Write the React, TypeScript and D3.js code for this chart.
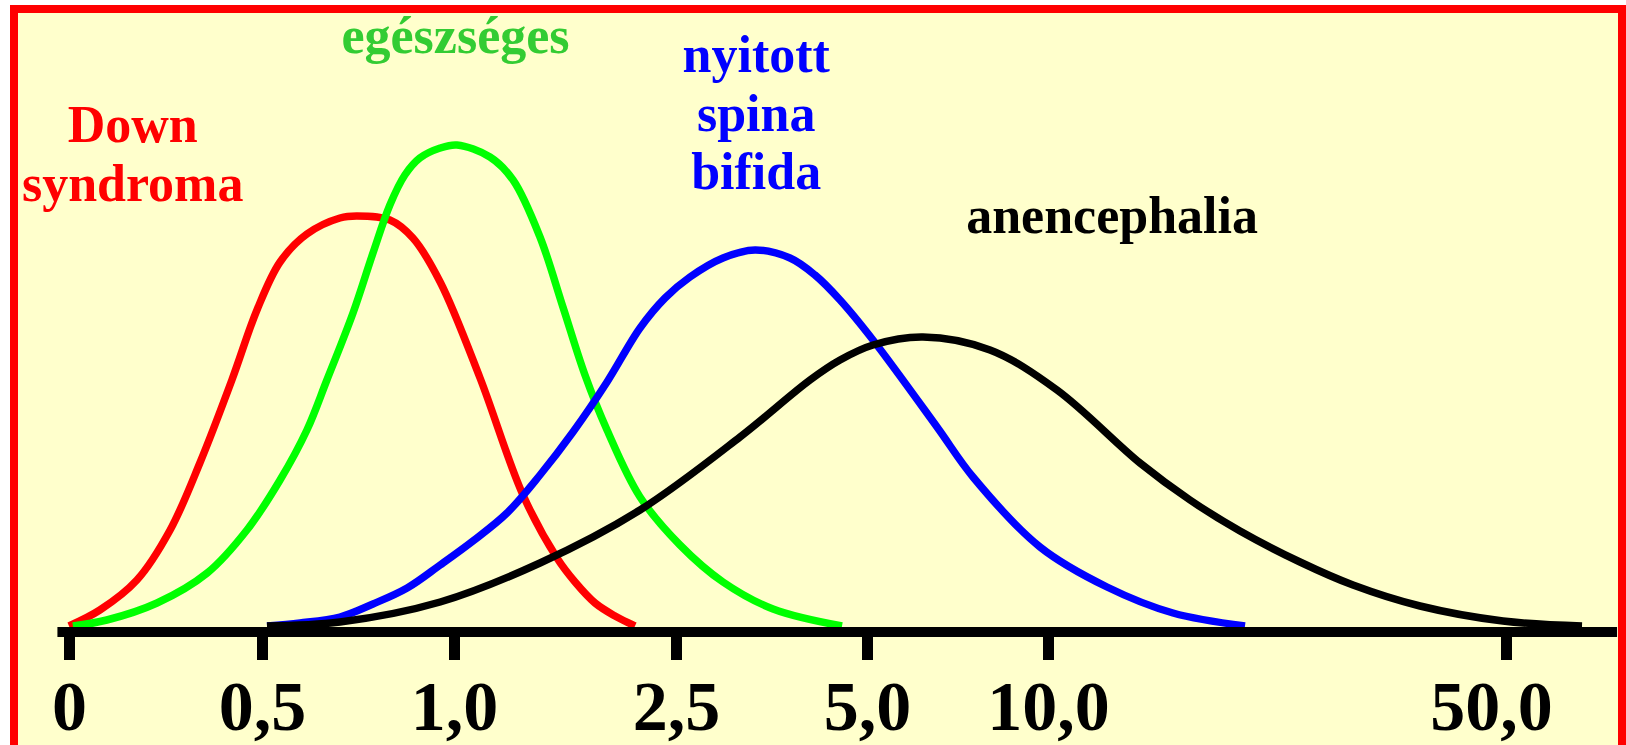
import * as d3 from 'd3';
import React, { useEffect, useRef } from 'react';

// MoM tick values and labels (the axis is not linear, each tick sits at its own place)
const tickValues = [0, 0.5, 1, 2.5, 5, 10, 50];
const tickLabels = ["0", "0,5", "1,0", "2,5", "5,0", "10,0", "50,0"];
const tickPixels = [69, 262, 454, 676, 867, 1048, 1506];
const axisExtent = [-0.03, 59.7];

// curves: [MoM, relative height]
const downSyndroma: [number, number][] = [
  [0, 0], [0.080, 3.2], [0.176, 9.2], [0.262, 19.2], [0.339, 32.6], [0.422, 49.2],
  [0.487, 63.2], [0.547, 72.8], [0.617, 78.4], [0.703, 81.6], [0.747, 82.0],
  [0.833, 81.2], [0.893, 77.6], [0.964, 68.8], [1.176, 49.6], [1.466, 26.2],
  [1.696, 13.6], [1.818, 8.8], [1.953, 4.6], [2.088, 2.0], [2.223, 0]
];
const egeszseges: [number, number][] = [
  [0.01, 0], [0.098, 1.2], [0.228, 4.6], [0.358, 10.6], [0.461, 19.2], [0.547, 29.2],
  [0.617, 39.2], [0.669, 49.2], [0.737, 62.6], [0.789, 74.6], [0.833, 84.2], [0.872, 90.2],
  [0.911, 93.6], [0.964, 95.6], [1.020, 96.2], [1.243, 93.8], [1.399, 89.2], [1.581, 77.8],
  [1.736, 63.8], [1.885, 50.2], [2.034, 39.2], [2.257, 25.8], [2.552, 16.2], [3.115, 8.8],
  [3.770, 3.4], [4.673, 0]
];
const spinaBifida: [number, number][] = [
  [0.513, 0], [0.599, 0.6], [0.703, 1.8], [0.789, 4.4], [0.878, 7.6], [0.964, 12.2],
  [1.128, 17.0], [1.358, 22.6], [1.581, 30.2], [1.804, 38.8], [2.034, 48.8], [2.257, 59.6],
  [2.426, 65.6], [2.683, 69.8], [3.115, 73.6], [3.534, 75.2], [3.992, 73.6], [4.319, 70.2],
  [4.647, 65.2], [5.166, 57.2], [6.934, 39.8], [7.928, 29.8], [9.779, 15.8], [15.153, 7.8],
  [20.917, 2.6], [27.205, 0]
];
const anencephalia: [number, number][] = [
  [0.513, 0], [0.703, 0.8], [0.964, 4.8], [1.581, 12.6], [2.257, 23.2], [3.338, 37.8],
  [4.254, 49.2], [4.647, 53.2], [5.166, 56.2], [6.547, 57.8], [8.398, 55.2], [10.786, 47.2],
  [18.035, 32.6], [22.402, 25.2], [26.769, 19.0], [32.009, 12.8], [36.638, 8.2],
  [42.489, 4.0], [49.738, 1.0], [56.638, 0]
];

const series = [
  { name: "down", data: downSyndroma, color: "#FF0000" },
  { name: "healthy", data: egeszseges, color: "#00FF00" },
  { name: "spina", data: spinaBifida, color: "#0000FF" },
  { name: "anen", data: anencephalia, color: "#000000" },
];

const labels = [
  { lines: ["Down", "syndroma"], color: "#FF0000", at: [0.165, 142] },
  { lines: ["egészséges"], color: "#33CC33", at: [1.01, 53] },
  { lines: ["nyitott", "spina", "bifida"], color: "#0000FF", at: [3.55, 72] },
  { lines: ["anencephalia"], color: "#000000", at: [15.6, 233] },
];

const FONT = "'Liberation Serif', 'Times New Roman', serif";

export default function App() {
  const svgRef = useRef(null);
  const W = 1626;
  const H = 745;

  useEffect(() => {
    const svg = d3.select(svgRef.current);
    svg.selectAll("*").remove();

    const x = d3.scaleLinear().domain(tickValues).range(tickPixels);
    const y = d3.scaleLinear().domain([0, 100]).range([626, 126]);
    const axisY = 632;

    // frame
    svg.append("rect")
      .attr("x", 14).attr("y", 9)
      .attr("width", 1608).attr("height", 742)
      .attr("fill", "#FFFFCC")
      .attr("stroke", "#FF0000")
      .attr("stroke-width", 8);

    const line = d3.line<[number, number]>()
      .x(d => x(d[0]))
      .y(d => y(d[1]))
      .curve(d3.curveCatmullRom.alpha(0.5));

    svg.append("g")
      .selectAll("path")
      .data(series)
      .join("path")
      .attr("d", d => line(d.data))
      .attr("fill", "none")
      .attr("stroke", d => d.color)
      .attr("stroke-width", 7.5);

    // axis
    svg.append("line")
      .attr("x1", x(axisExtent[0])).attr("x2", x(axisExtent[1]))
      .attr("y1", axisY).attr("y2", axisY)
      .attr("stroke", "#000").attr("stroke-width", 10);

    const xAxis = d3.axisBottom(x)
      .tickValues(tickValues)
      .tickFormat((_, i) => tickLabels[i])
      .tickSize(28);

    const g = svg.append("g")
      .attr("transform", `translate(0, ${axisY})`)
      .call(xAxis);
    g.select(".domain").remove();
    g.selectAll("line")
      .attr("y1", 4)
      .attr("stroke", "#000")
      .attr("stroke-width", 11);
    g.selectAll("text")
      .attr("y", 98)
      .attr("dy", 0)
      .attr("dx", (d: any) => d === 50 ? -15 : 0)
      .attr("fill", "#000")
      .attr("font-family", FONT)
      .attr("font-weight", "bold")
      .attr("font-size", 70);

    // curve labels
    labels.forEach(l => {
      const t = svg.append("text")
        .attr("text-anchor", "middle")
        .attr("font-family", FONT)
        .attr("font-weight", "bold")
        .attr("font-size", 52)
        .attr("fill", l.color);
      l.lines.forEach((s, i) => {
        t.append("tspan")
          .attr("x", x(l.at[0]))
          .attr("y", l.at[1] + i * 58.5)
          .text(s);
      });
    });
  }, []);

  return (
    <svg ref={svgRef} width={W} height={H}
      style={{ position: "absolute", left: 0, top: 0, display: "block", background: "#fff" }} />
  );
}
